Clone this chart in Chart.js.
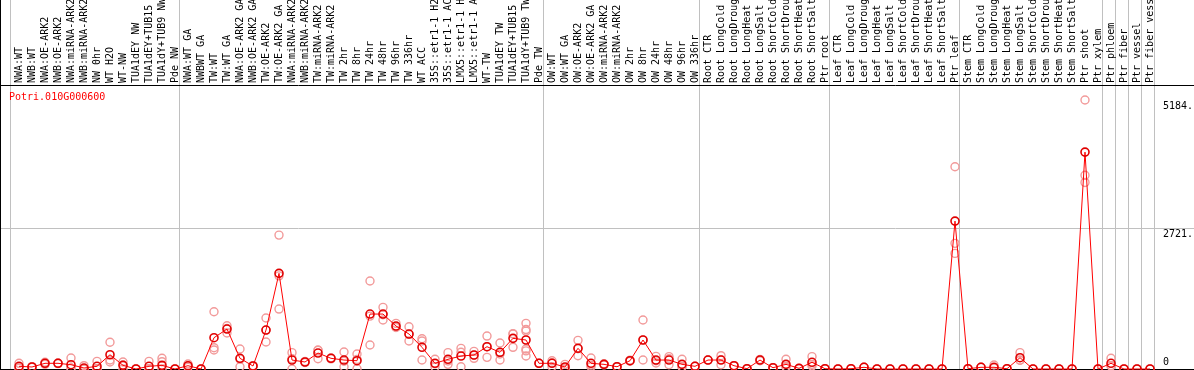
<!DOCTYPE html>
<html>
<head>
<meta charset="utf-8">
<script src="https://cdn.jsdelivr.net/npm/chart.js@4"></script>
<style>
  html, body { margin: 0; padding: 0; background: #fff; }
</style>
</head>
<body>
<canvas id="exprChart" width="1194" height="370"></canvas>
<script>
const geneName = 'Potri.010G000600';

const samples = [
  'NWA:WT', 'NWB:WT', 'NWA:OE-ARK2', 'NWB:OE-ARK2', 'NWA:miRNA-ARK2', 'NWB:miRNA-ARK2',
  'NW 0hr', 'WT H2O', 'WT-NW', 'TUA1dEY NW', 'TUA1dEY+TUB15 NW', 'TUA1dY+TUB9 NW', 'Pde NW',
  'NWA:WT GA', 'NWBWT GA', 'TW:WT', 'TW:WT GA', 'NWA:OE-ARK2 GA', 'NWB:OE-ARK2 GA',
  'TW:OE-ARK2', 'TW:OE-ARK2 GA', 'NWA:miRNA-ARK2 GA', 'NWB:miRNA-ARK2 GA', 'TW:miRNA-ARK2',
  'TW:miRNA-ARK2 GA', 'TW 2hr', 'TW 8hr', 'TW 24hr', 'TW 48hr', 'TW 96hr', 'TW 336hr',
  'WT ACC', '35S::etr1-1 H2O', '35S::etr1-1 ACC', 'LMX5::etr1-1 H2O', 'LMX5::etr1-1 ACC',
  'WT-TW', 'TUA1dEY TW', 'TUA1dEY+TUB15 TW', 'TUA1dY+TUB9 TW', 'Pde TW',
  'OW:WT', 'OW:WT GA', 'OW:OE-ARK2', 'OW:OE-ARK2 GA', 'OW:miRNA-ARK2', 'OW:miRNA-ARK2 GA',
  'OW 2hr', 'OW 8hr', 'OW 24hr', 'OW 48hr', 'OW 96hr', 'OW 336hr',
  'Root CTR', 'Root LongCold', 'Root LongDrought', 'Root LongHeat', 'Root LongSalt',
  'Root ShortCold', 'Root ShortDrought', 'Root ShortHeat', 'Root ShortSalt', 'Ptr root',
  'Leaf CTR', 'Leaf LongCold', 'Leaf LongDrought', 'Leaf LongHeat', 'Leaf LongSalt',
  'Leaf ShortCold', 'Leaf ShortDrought', 'Leaf ShortHeat', 'Leaf ShortSalt', 'Ptr leaf',
  'Stem CTR', 'Stem LongCold', 'Stem LongDrought', 'Stem LongHeat', 'Stem LongSalt',
  'Stem ShortCold', 'Stem ShortDrought', 'Stem ShortHeat', 'Stem ShortSalt', 'Ptr shoot',
  'Ptr xylem', 'Ptr phloem', 'Ptr fiber', 'Ptr vessel', 'Ptr fiber vessel'
];

// mean expression per sample
const meanValues = [
  52, 39, 110, 110, 83, 19, 52, 275, 71, 0, 52, 71, 0,
  64, 0, 603, 770, 206, 58, 751, 1843, 173, 135, 308, 206, 173, 160,
  1059, 1059, 828, 674, 418, 110, 187, 250, 270, 430, 322, 591, 559, 110,
  110, 39, 399, 110, 90, 44, 160, 559, 173, 173, 90, 52,
  173, 173, 64, 6, 173, 25, 90, 13, 129, 6,
  0, 6, 33, 0, 0, 0, 0, 0, 0, 2850,
  6, 33, 33, 6, 218, 0, 0, 0, 0, 4179,
  0, 110, 0, 0, 0
];

// individual replicates per sample
const replicateValues = [
  [110, 30, 15], [45, 35, 38], [129, 110, 90], [110, 105, 115], [212, 20, 18], [64, 0, 0],
  [148, 5, 5], [515, 135, 175], [135, 78, 0], [0, 0, 0], [148, 5, 5], [206, 141, 0], [0, 0],
  [96, 60, 35], [0, 0], [1104, 411, 366], [834, 693, 780], [385, 44, 190], [64, 50, 60],
  [983, 520, 750], [2580, 1155, 1795], [315, 0, 200], [145, 125, 135], [366, 199, 360],
  [215, 195], [327, 44, 150], [289, 6, 185], [1695, 462, 1020], [1188, 944, 1045],
  [880, 809, 800], [815, 539, 670], [584, 539, 173], [187, 39, 100], [315, 90, 155],
  [398, 322, 44], [340, 206, 265], [635, 225, 430], [501, 173, 290], [681, 418, 675],
  [880, 760, 730, 350, 250, 385], [110, 110],
  [160, 45, 120], [90, 0, 20], [552, 257, 390], [212, 44, 75], [100, 80, 90], [44, 44],
  [170, 150, 160], [944, 173, 560], [244, 115, 160], [238, 83, 200], [187, 44, 40], [52, 52],
  [173, 173], [257, 83, 180], [64, 64], [6, 6], [185, 160], [25, 25], [187, 44, 40],
  [13, 13], [238, 58, 90], [6, 6],
  [0, 0], [6, 6], [33, 33], [0, 0], [0, 0], [0, 0], [0, 0], [0, 0], [0, 0],
  [3898, 2421, 2228],
  [6, 6], [33, 33], [77, 20], [6, 6], [315, 170, 170], [0, 0], [0, 0], [0, 0], [0, 0],
  [5184, 3732, 3595],
  [0, 0], [206, 60, 65], [0, 0], [0, 0], [0, 0]
];

const axisTicks = [0, 2721, 5184];
const axisTickLabels = ['0', '2721.', '5184.'];

// index of first sample of each tissue block (last one closes the plot)
const groupStarts = [0, 13, 41, 53, 63, 73, 84, 85, 86, 87, 88];

const replicatePoints = [];
replicateValues.forEach((reps, i) => {
  reps.forEach(v => replicatePoints.push({ x: i, y: v }));
});

const monoFont = { family: 'DejaVu Sans Mono', size: 10 };

const framePlugin = {
  id: 'frame',
  beforeDraw(chart) {
    const { ctx, width, height, chartArea } = chart;
    const x = chart.scales.x;
    const y = chart.scales.y;
    ctx.save();
    ctx.lineWidth = 1;

    // block separators
    ctx.strokeStyle = '#c0c0c0';
    groupStarts.forEach(k => {
      const px = Math.round(x.getPixelForValue(k - 0.69)) + 0.5;
      ctx.beginPath();
      ctx.moveTo(px, 0);
      ctx.lineTo(px, height);
      ctx.stroke();
    });
    const gy = Math.round(y.getPixelForValue(2721)) + 0.5;
    ctx.beginPath();
    ctx.moveTo(0, gy);
    ctx.lineTo(width, gy);
    ctx.stroke();

    // black frame
    ctx.strokeStyle = '#000';
    ctx.beginPath();
    ctx.moveTo(0, chartArea.top - 0.5);
    ctx.lineTo(width, chartArea.top - 0.5);
    ctx.moveTo(0, height - 0.5);
    ctx.lineTo(width, height - 0.5);
    ctx.moveTo(0.5, 0);
    ctx.lineTo(0.5, height);
    ctx.stroke();
    ctx.restore();
  },
  afterDraw(chart) {
    const { ctx, chartArea } = chart;
    ctx.save();
    ctx.fillStyle = '#ff0000';
    ctx.font = '10px "DejaVu Sans Mono"';
    ctx.textBaseline = 'alphabetic';
    ctx.fillText(geneName, 9, chartArea.top + 14);
    ctx.restore();
  }
};

const ctx = document.getElementById('exprChart').getContext('2d');
const exprChart = new Chart(ctx, {
  type: 'line',
  data: {
    labels: samples,
    datasets: [
      {
        label: 'mean',
        data: meanValues,
        borderColor: '#ff0000',
        borderWidth: 1,
        pointRadius: 4,
        pointBorderWidth: 1.6,
        pointBorderColor: '#e00000',
        pointBackgroundColor: 'rgba(0,0,0,0)',
        tension: 0,
        clip: false,
        order: 0
      },
      {
        label: 'replicates',
        data: replicatePoints,
        xAxisID: 'xr',
        showLine: false,
        pointRadius: 4,
        pointBorderWidth: 1.4,
        pointBorderColor: '#f29a9a',
        pointBackgroundColor: 'rgba(0,0,0,0)',
        clip: false,
        order: 1
      }
    ]
  },
  options: {
    responsive: false,
    animation: false,
    events: [],
    layout: { autoPadding: false, padding: { left: 19, right: 0, top: 0, bottom: 0 } },
    plugins: {
      legend: { display: false },
      tooltip: { enabled: false }
    },
    scales: {
      x: {
        type: 'category',
        position: 'top',
        offset: false,
        grid: { display: false, drawTicks: false },
        border: { display: false },
        ticks: {
          autoSkip: false,
          minRotation: 90,
          maxRotation: 90,
          padding: 3,
          labelOffset: 12.5,
          color: '#000',
          font: monoFont
        },
        afterFit(scale) {
          scale.height = 86;
          scale.paddingLeft = 0;
          scale.paddingRight = 0;
        }
      },
      xr: {
        type: 'linear',
        display: false,
        min: 0,
        max: samples.length - 1
      },
      y: {
        type: 'linear',
        position: 'right',
        min: -19,
        max: 5453,
        grid: { display: false, drawTicks: false },
        border: { display: false },
        afterBuildTicks(scale) {
          scale.ticks = axisTicks.map(v => ({ value: v }));
        },
        ticks: {
          padding: 13,
          color: '#000',
          font: { family: 'DejaVu Sans Mono', size: 10, lineHeight: 1.3 },
          callback(value, index) {
            const text = axisTickLabels[index];
            return value === 0 ? [text, ''] : ['', text];
          }
        },
        afterFit(scale) {
          scale.width = 44;
          scale.paddingTop = 0;
          scale.paddingBottom = 0;
        }
      }
    }
  },
  plugins: [framePlugin]
});
</script>
</body>
</html>
